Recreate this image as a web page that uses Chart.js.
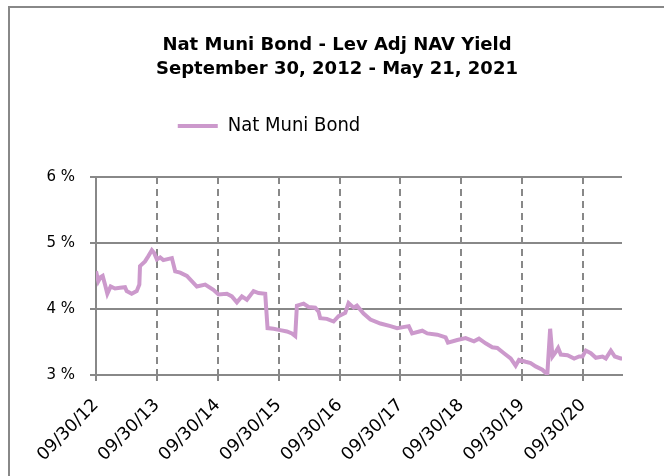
<!DOCTYPE html>
<html>
<head>
<meta charset="utf-8">
<script src="https://cdn.jsdelivr.net/npm/chart.js@4"></script>
<style>
  html, body { margin: 0; padding: 0; background: #fff; }
  #wrap { position: relative; width: 664px; height: 476px; }
  #frame { position: absolute; left: 8px; top: 6px; right: 0; bottom: 0;
           border-left: 2px solid #888; border-top: 2px solid #888; }
  canvas { position: absolute; left: 0; top: 0; }
</style>
</head>
<body>
<div id="wrap">
  <div id="frame"></div>
  <canvas id="yieldChart" width="664" height="476"></canvas>
</div>
<script>
// dates and yields
const dates = [
  '2012-09-30', '2012-10-14', '2012-10-27', '2012-11-09', '2012-11-23', '2012-12-07', '2012-12-27',
  '2013-01-22', '2013-02-21', '2013-03-23', '2013-04-02', '2013-05-02', '2013-06-01', '2013-06-17',
  '2013-06-21', '2013-07-21', '2013-08-10', '2013-08-31', '2013-09-13', '2013-09-30', '2013-10-20',
  '2013-11-08', '2013-12-29', '2014-01-18', '2014-02-17', '2014-03-29', '2014-05-28', '2014-07-17',
  '2014-09-04', '2014-10-05', '2014-11-24', '2014-12-24', '2015-01-23', '2015-02-22', '2015-03-24',
  '2015-05-03', '2015-06-02', '2015-07-12', '2015-07-26', '2015-08-31', '2015-10-10', '2015-11-19',
  '2015-12-19', '2016-01-08', '2016-01-18', '2016-02-27', '2016-03-28', '2016-05-07', '2016-05-27',
  '2016-06-06', '2016-07-16', '2016-08-25', '2016-09-24', '2016-11-03', '2016-11-23', '2016-12-23',
  '2017-01-12', '2017-02-21', '2017-04-03', '2017-06-02', '2017-08-01', '2017-09-10', '2017-11-19',
  '2017-12-09', '2018-02-08', '2018-03-10', '2018-05-09', '2018-06-28', '2018-07-12', '2018-09-06',
  '2018-10-26', '2018-12-15', '2019-01-14', '2019-02-23', '2019-04-04', '2019-05-04', '2019-06-13',
  '2019-07-23', '2019-08-22', '2019-09-11', '2019-10-21', '2019-11-20', '2019-12-20', '2020-01-29',
  '2020-02-28', '2020-03-16', '2020-03-30', '2020-04-19', '2020-05-03', '2020-05-19', '2020-06-28',
  '2020-08-07', '2020-09-06', '2020-09-26', '2020-10-16', '2020-11-15', '2020-12-15', '2021-01-24',
  '2021-02-13', '2021-03-15', '2021-04-08', '2021-05-13', '2021-05-21'
];
const yieldValues = [
  4.57, 4.42, 4.48, 4.50, 4.37, 4.23, 4.34,
  4.31, 4.32, 4.33, 4.27, 4.23, 4.27, 4.37,
  4.65, 4.72, 4.80, 4.89, 4.85, 4.75, 4.78,
  4.74, 4.77, 4.57, 4.55, 4.50, 4.34, 4.37,
  4.29, 4.22, 4.23, 4.19, 4.10, 4.19, 4.14,
  4.27, 4.24, 4.23, 3.71, 3.70, 3.68, 3.66,
  3.63, 3.59, 4.05, 4.08, 4.03, 4.02, 3.96,
  3.86, 3.85, 3.81, 3.89, 3.94, 4.09, 4.02,
  4.05, 3.93, 3.84, 3.78, 3.74, 3.71, 3.74,
  3.63, 3.67, 3.63, 3.61, 3.57, 3.49, 3.53,
  3.56, 3.51, 3.55, 3.48, 3.42, 3.41, 3.33,
  3.25, 3.14, 3.23, 3.20, 3.18, 3.13, 3.08,
  3.01, 3.70, 3.28, 3.35, 3.41, 3.31, 3.30,
  3.25, 3.28, 3.28, 3.37, 3.33, 3.26, 3.28,
  3.25, 3.37, 3.28, 3.25, 3.25
];
const tickDates = ['2012-09-30', '2013-09-30', '2014-09-30', '2015-09-30', '2016-09-30',
                   '2017-09-30', '2018-09-30', '2019-09-30', '2020-09-30'];
const tickLabels = ['09/30/12', '09/30/13', '09/30/14', '09/30/15', '09/30/16',
                    '09/30/17', '09/30/18', '09/30/19', '09/30/20'];
const yMin = 3;
const yMax = 6;

const points = dates.map((d, i) => ({ x: Date.parse(d), y: yieldValues[i] }));
const gridGrey = '#888888';
const fontFace = "'DejaVu Sans', sans-serif";
const condensedFace = "'DejaVu Sans Condensed', 'DejaVu Sans', sans-serif";

// title sits a bit right of centre, legend left of centre and closer to the title
const blockShift = {
  id: 'blockShift',
  afterLayout(chart) {
    const lg = chart.legend;
    lg.left = 0;
    lg.right = 538;
    lg.top -= 31;
    lg.bottom -= 31;
    const tb = chart.titleBlock;
    tb.left = 52;
    tb.right = 622;
  }
};

new Chart(document.getElementById('yieldChart'), {
  type: 'line',
  data: {
    datasets: [{
      label: 'Nat Muni Bond',
      data: points,
      borderColor: '#cc99cc',
      backgroundColor: '#cc99cc',
      borderWidth: 4,
      pointRadius: 0,
      tension: 0
    }]
  },
  options: {
    responsive: false,
    animation: false,
    layout: { padding: { left: 10, right: 42, top: 25, bottom: 0 } },
    scales: {
      x: {
        type: 'linear',
        min: Date.parse('2012-09-30'),
        max: Date.parse('2021-05-21'),
        afterBuildTicks: scale => {
          scale.ticks = tickDates.map(d => ({ value: Date.parse(d) }));
        },
        afterFit: scale => { scale.height = 101; },
        ticks: {
          autoSkip: false,
          maxRotation: 45,
          minRotation: 45,
          color: '#000',
          font: { family: fontFace, size: 17.5 },
          padding: 14,
          callback: (value, index) => tickLabels[index]
        },
        grid: { color: gridGrey, lineWidth: 2, tickLength: 6 },
        border: { display: true, color: gridGrey, width: 2, dash: [7, 5] }
      },
      y: {
        min: yMin,
        max: yMax,
        afterFit: scale => { scale.width = 86; },
        ticks: {
          stepSize: 1,
          color: '#000',
          font: { family: fontFace, size: 15 },
          padding: 15,
          callback: value => value + ' %'
        },
        grid: { color: gridGrey, lineWidth: 2, tickLength: 6 },
        border: { display: true, color: gridGrey, width: 2 }
      }
    },
    plugins: {
      title: {
        display: true,
        text: ['Nat Muni Bond - Lev Adj NAV Yield', 'September 30, 2012 - May 21, 2021'],
        color: '#000',
        font: { family: fontFace, size: 18, weight: 'bold', lineHeight: 1.33 },
        padding: { top: 8, bottom: 56 }
      },
      legend: {
        display: true,
        labels: {
          color: '#000',
          font: { family: condensedFace, size: 20 },
          usePointStyle: true,
          pointStyle: 'line',
          pointStyleWidth: 40,
          padding: 10
        }
      },
      tooltip: { enabled: false }
    }
  },
  plugins: [blockShift]
});
</script>
</body>
</html>
